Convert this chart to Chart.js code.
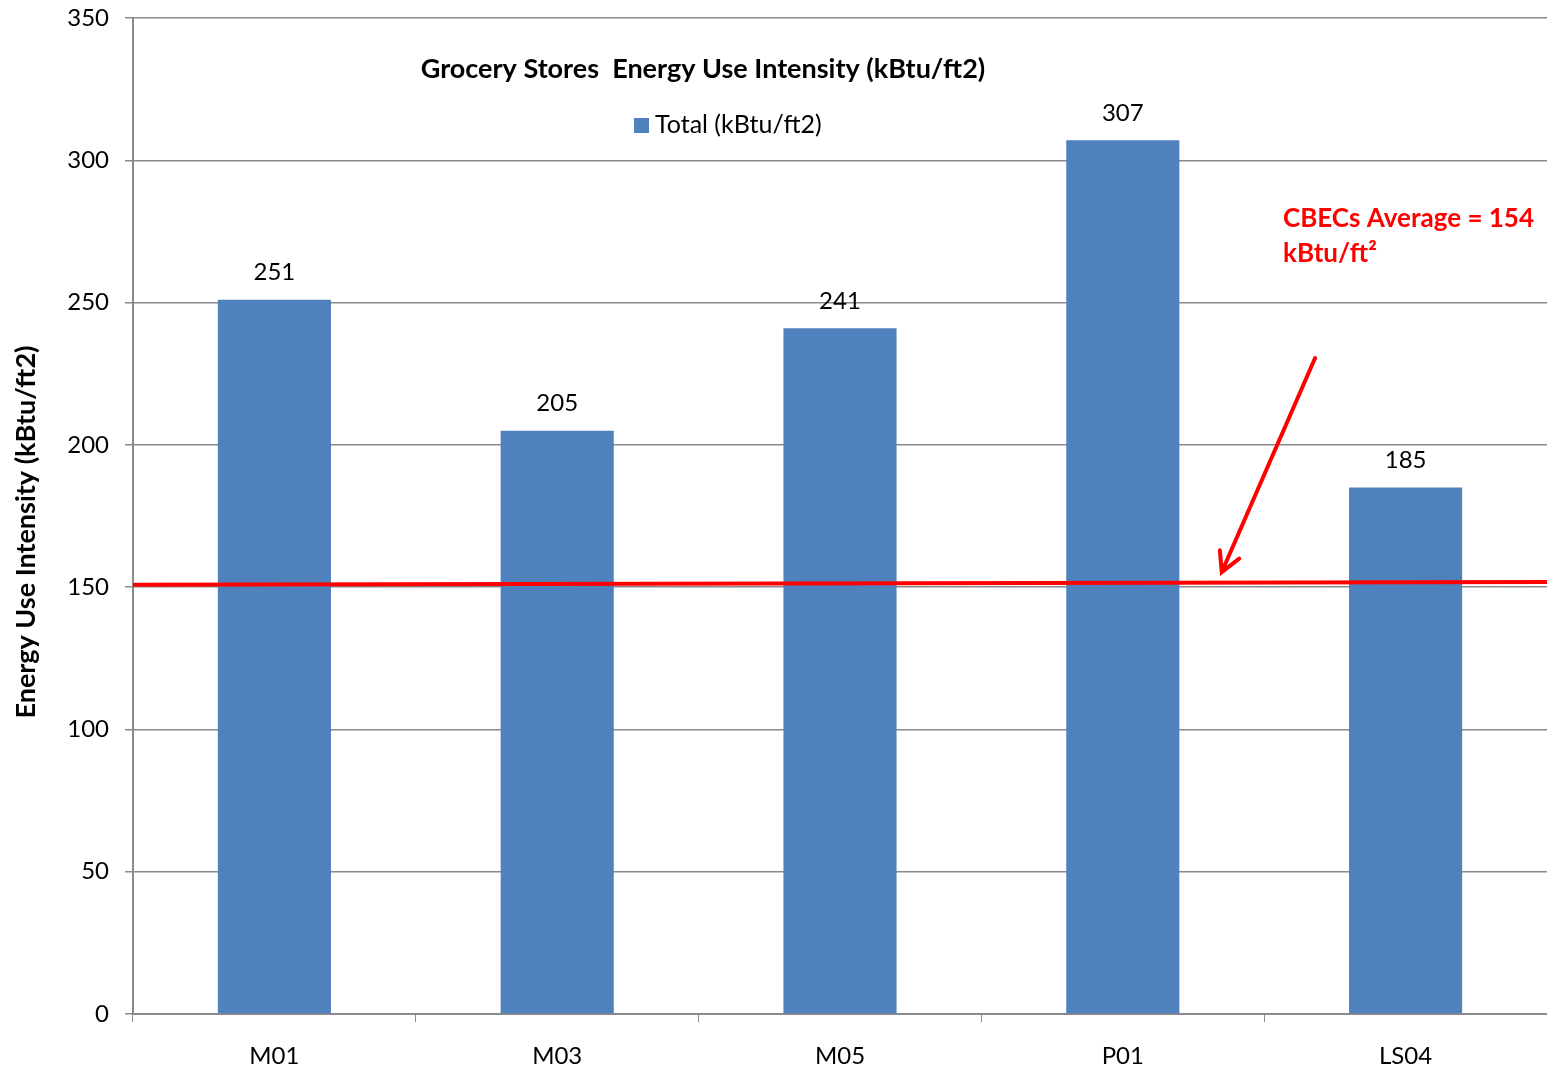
<!DOCTYPE html>
<html>
<head>
<meta charset="utf-8">
<title>Grocery Stores Energy Use Intensity</title>
<script src="https://cdn.jsdelivr.net/npm/chart.js@4/dist/chart.umd.min.js"></script>
<style>
  html, body { margin: 0; padding: 0; background: #fff; }
  #wrap { width: 1547px; height: 1069px; }
</style>
</head>
<body>
<div id="wrap"><canvas id="eui"></canvas></div>
<script>
// --- Data ---
const stores = ["M01", "M03", "M05", "P01", "LS04"];
const totalEUI = [251, 205, 241, 307, 185];
const yTicks = [0, 50, 100, 150, 200, 250, 300, 350];

// CBECs-Linie (links -> rechts, leicht schief wie im Original)
const avgLine = [150.8, 151.8];
const avgLabel = ["CBECs Average = 154", "kBtu/ft\u00B2"];

// Pfeil: [x als Kategorie-Index, y-Wert]
const arrowFrom = [3.68, 230.5];
const arrowTo = [3.35, 155.3];

const FONT = "Lato, 'Open Sans', sans-serif";
const BLUE = "#4F81BD";
const RED = "#FF0000";
const GRID = "#8a8a8a";

// --- Plugin: Titel, Legende, Achsentitel, Werte, Linie, Pfeil ---
const overlayPlugin = {
  id: "overlayPlugin",
  afterDatasetsDraw(chart) {
    const {ctx, chartArea: a} = chart;
    const xs = chart.scales.x, ys = chart.scales.y;
    const meta = chart.getDatasetMeta(0);

    ctx.save();

    // Werte über den Balken
    ctx.fillStyle = "#000";
    ctx.font = `24px ${FONT}`;
    ctx.textAlign = "center";
    ctx.textBaseline = "middle";
    meta.data.forEach((bar, i) => {
      ctx.fillText(String(totalEUI[i]), bar.x, bar.y - 27);
    });

    // Titel
    ctx.font = `bold 27px ${FONT}`;
    ctx.fillText("Grocery Stores  Energy Use Intensity (kBtu/ft2)", 703, 69);

    // Y-Achsentitel (etwas unter der Mitte wie im Original)
    ctx.save();
    ctx.translate(26, 532);
    ctx.rotate(-Math.PI / 2);
    ctx.font = `bold 27px ${FONT}`;
    ctx.fillText("Energy Use Intensity (kBtu/ft2)", 0, 0);
    ctx.restore();

    // Legende
    ctx.fillStyle = BLUE;
    ctx.fillRect(634, 118, 15, 15);
    ctx.fillStyle = "#000";
    ctx.font = `25px ${FONT}`;
    ctx.textAlign = "left";
    ctx.fillText("Total (kBtu/ft2)", 655, 125);

    // CBECs-Linie
    ctx.strokeStyle = RED;
    ctx.lineWidth = 4;
    ctx.beginPath();
    ctx.moveTo(a.left, ys.getPixelForValue(avgLine[0]));
    ctx.lineTo(a.right, ys.getPixelForValue(avgLine[1]));
    ctx.stroke();

    // Pfeil
    const catX = (v) => xs.getPixelForValue(0) + v * (xs.getPixelForValue(1) - xs.getPixelForValue(0));
    const x1 = catX(arrowFrom[0]), y1 = ys.getPixelForValue(arrowFrom[1]);
    const x2 = catX(arrowTo[0]), y2 = ys.getPixelForValue(arrowTo[1]);
    ctx.lineWidth = 4;
    ctx.lineCap = "round";
    ctx.beginPath();
    ctx.moveTo(x1, y1);
    ctx.lineTo(x2, y2);
    const ang = Math.atan2(y2 - y1, x2 - x1);
    const head = 22, spread = 0.5;
    ctx.moveTo(x2 - head * Math.cos(ang - spread), y2 - head * Math.sin(ang - spread));
    ctx.lineTo(x2, y2);
    ctx.lineTo(x2 - head * Math.cos(ang + spread), y2 - head * Math.sin(ang + spread));
    ctx.stroke();

    // Beschriftung
    ctx.fillStyle = RED;
    ctx.font = `bold 26px ${FONT}`;
    ctx.textAlign = "left";
    ctx.fillText(avgLabel[0], 1283, 219);
    ctx.fillText(avgLabel[1], 1283, 254);

    ctx.restore();
  }
};

new Chart(document.getElementById("eui"), {
  type: "bar",
  data: {
    labels: stores,
    datasets: [{
      label: "Total (kBtu/ft2)",
      data: totalEUI,
      backgroundColor: BLUE,
      borderWidth: 0,
      barPercentage: 0.4,
      categoryPercentage: 1.0
    }]
  },
  options: {
    responsive: true,
    maintainAspectRatio: false,
    animation: false,
    layout: { padding: { top: 18, right: 0, left: 0, bottom: 0 } },
    plugins: {
      legend: { display: false },
      title: { display: false },
      tooltip: { enabled: false }
    },
    scales: {
      x: {
        afterFit: (s) => { s.height = 55; s.paddingLeft = 0; s.paddingRight = 0; },
        grid: { display: true, drawOnChartArea: false, offset: true, color: GRID, tickLength: 8 },
        border: { color: GRID, width: 2 },
        ticks: { color: "#000", font: { family: FONT, size: 24 }, padding: 20 }
      },
      y: {
        min: 0,
        max: 350,
        afterFit: (s) => { s.width = 133; s.paddingTop = 0; s.paddingBottom = 0; },
        afterBuildTicks: (s) => { s.ticks = yTicks.map(v => ({ value: v })); },
        grid: { color: GRID, lineWidth: 1.5, tickLength: 8 },
        border: { color: GRID, width: 2 },
        ticks: { color: "#000", font: { family: FONT, size: 24 }, padding: 16 }
      }
    }
  },
  plugins: [overlayPlugin]
});
</script>
</body>
</html>
